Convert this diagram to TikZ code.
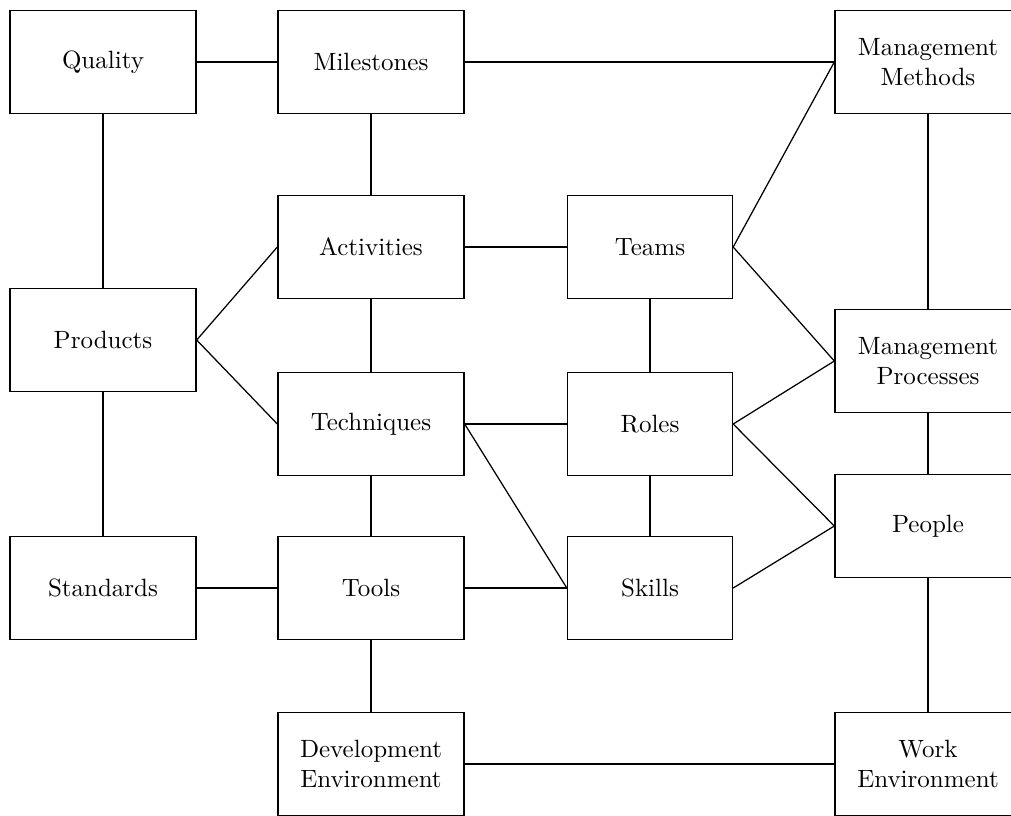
\documentclass[tikz,border=0pt]{standalone}
\begin{document}
\begin{tikzpicture}[x=0.4pt,y=-0.4pt,
    box/.style={draw,line width=0.55pt,minimum width=74.4pt,minimum height=41.2pt,inner sep=0pt,align=center},
    narrowbox/.style={box,minimum width=66pt},
    link/.style={line width=0.5pt}]
      \clip (0,0) rectangle (1011,815);
      \node[box] (quality) at (103,62) {Quality};
      \node[box] (milestones) at (371,62) {Milestones};
      \node[box] (methods) at (928,62) {Management\\Methods};
      \node[box] (activities) at (371,247) {Activities};
      \node[narrowbox] (teams) at (650,247) {Teams};
      \node[box] (products) at (103,340) {Products};
      \node[box] (processes) at (928,361) {Management\\Processes};
      \node[box] (techniques) at (371,424) {Techniques};
      \node[narrowbox] (roles) at (650,424) {Roles};
      \node[box] (people) at (928,526) {People};
      \node[box] (standards) at (103,588) {Standards};
      \node[box] (tools) at (371,588) {Tools};
      \node[narrowbox] (skills) at (650,588) {Skills};
      \node[box] (devenv) at (371,764) {Development\\Environment};
      \node[box] (workenv) at (928,764) {Work\\Environment};
      \draw[link] (quality) -- (milestones) (milestones) -- (methods.west);
      \draw[link] (quality) -- (products) (products) -- (standards);
      \draw[link] (milestones) -- (activities) (activities) -- (techniques)
                  (techniques) -- (tools) (tools) -- (devenv);
      \draw[link] (teams) -- (roles) (roles) -- (skills);
      \draw[link] (methods) -- (processes) (processes) -- (people) (people) -- (workenv);
      \draw[link] (products.east) -- (activities.west) (products.east) -- (techniques.west);
      \draw[link] (activities) -- (teams) (techniques) -- (roles);
      \draw[link] (techniques.east) -- (skills.west);
      \draw[link] (standards) -- (tools) (tools) -- (skills);
      \draw[link] (teams.east) -- (methods.west) (teams.east) -- (processes.west);
      \draw[link] (roles.east) -- (processes.west) (roles.east) -- (people.west);
      \draw[link] (skills.east) -- (people.west);
      \draw[link] (devenv) -- (workenv);
    \end{tikzpicture}
\end{document}
